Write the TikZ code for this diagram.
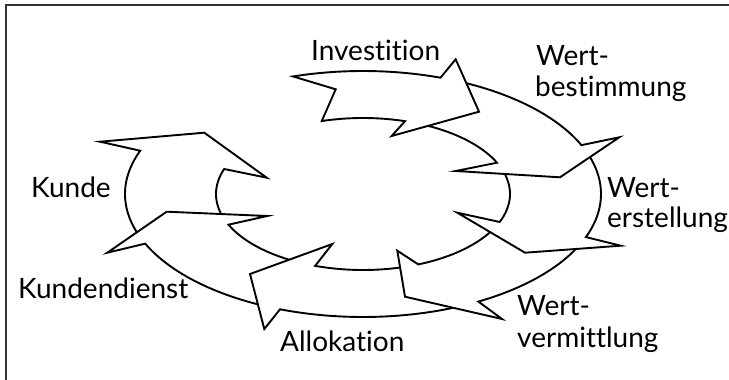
\documentclass[tikz,border=0pt]{standalone}
\usepackage{fontspec}
\setmainfont{Lato}[Ligatures={NoCommon}]
\begin{document}
\begin{tikzpicture}
[x=1pt,y=-1pt,
  arrowdecorate/.style={draw=black,fill=white,line width=1.9pt,line join=miter},%
  labeldecorate/.style={anchor=base west,inner sep=0pt,font=\fontsize{28}{28}\selectfont},%
  framedecorate/.style={draw=black!80,line width=1.5pt}]
\def\ringx{363}
\def\ringy{194}
\useasboundingbox (0,0) rectangle (729,380);
%% frame
\draw[framedecorate] (6,380) -- (6,5) -- (729,5);
%% arrows of the ring, each head lies on the tail of the next one
% Kunde
\draw[arrowdecorate] plot[domain=159:200.6,samples=30] ({\ringx+238*cos(\x)},{\ringy+123*sin(\x)})
  -- (100,141.7) -- (204.3,132.7) -- (266.7,177.7)
  -- plot[domain=199.2:160,samples=30] ({\ringx+147*cos(\x)},{\ringy+76*sin(\x)}) -- cycle;
% Kundendienst
\draw[arrowdecorate] plot[domain=113:156.2,samples=30] ({\ringx+238*cos(\x)},{\ringy+123*sin(\x)})
  -- (107.3,252.7) -- (166.7,211.7) -- (267.3,216)
  -- plot[domain=156.2:115,samples=30] ({\ringx+147*cos(\x)},{\ringy+76*sin(\x)}) -- cycle;
% Allokation
\draw[arrowdecorate] plot[domain=64:110.4,samples=30] ({\ringx+238*cos(\x)},{\ringy+123*sin(\x)})
  -- (264.3,329) -- (250,274) -- (332.3,244)
  -- plot[domain=109:70,samples=30] ({\ringx+147*cos(\x)},{\ringy+76*sin(\x)}) -- cycle;
% Wertvermittlung
\draw[arrowdecorate] plot[domain=24:61,samples=30] ({\ringx+238*cos(\x)},{\ringy+123*sin(\x)})
  -- (502,319) -- (405,296.7) -- (397.3,250.7)
  -- plot[domain=67.9:26,samples=30] ({\ringx+147*cos(\x)},{\ringy+76*sin(\x)}) -- cycle;
% Werterstellung
\draw[arrowdecorate] plot[domain=339:380.5,samples=30] ({\ringx+238*cos(\x)},{\ringy+123*sin(\x)})
  -- (620.7,245.7) -- (525,252.7) -- (457.3,212.7)
  -- plot[domain=381.6:340,samples=30] ({\ringx+147*cos(\x)},{\ringy+76*sin(\x)}) -- cycle;
% Wertbestimmung
\draw[arrowdecorate] plot[domain=292:336.6,samples=30] ({\ringx+238*cos(\x)},{\ringy+123*sin(\x)})
  -- (619.3,137.3) -- (560,177.3) -- (455.7,171)
  -- plot[domain=335.7:292,samples=30] ({\ringx+147*cos(\x)},{\ringy+76*sin(\x)}) -- cycle;
% Investition
\draw[arrowdecorate] (335.7,89.3)
  -- plot[domain=252.9:289,samples=30] ({\ringx+238*cos(\x)},{\ringy+123*sin(\x)})
  -- (455.7,59.3) -- (479,111.7) -- (391.7,136)
  -- plot[domain=286.6:253.7,samples=30] ({\ringx+147*cos(\x)},{\ringy+76*sin(\x)}) -- cycle;
%% labels
\foreach \labelname/\x/\y/\labeltext in {investition/311/60/Investition,
  wertA/536/65/Wert-, bestimmung/535/96/bestimmung,
  wertB/607/197/Wert-, erstellung/607/227/erstellung,
  wertC/517/315/Wert-, vermittlung/517/347/vermittlung,
  allokation/280/351/Allokation, kundendienst/18/298/Kundendienst,
  kunde/31/197/Kunde}
{
  \node[labeldecorate] (\labelname) at (\x,\y) {\labeltext};
}
\end{tikzpicture}
\end{document}
